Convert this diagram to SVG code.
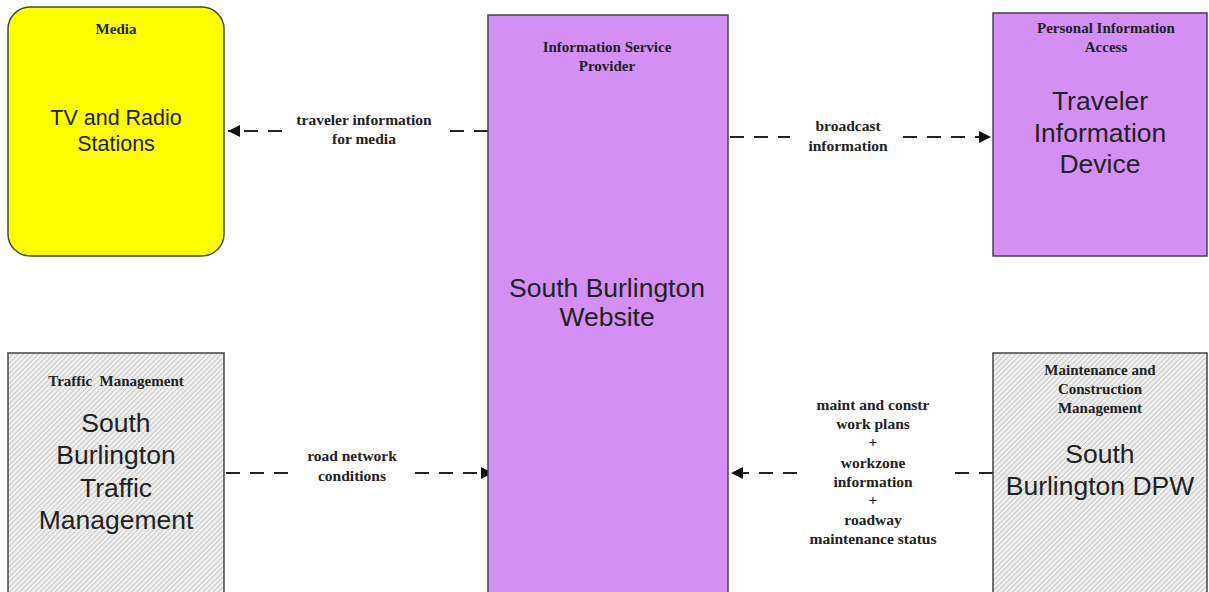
<svg xmlns="http://www.w3.org/2000/svg" width="1209" height="592" viewBox="0 0 1209 592">
<defs>
<pattern id="hatch" width="3.6" height="3.6" patternUnits="userSpaceOnUse" patternTransform="rotate(45)">
<rect width="3.6" height="3.6" fill="#efefef"/>
<line x1="0" y1="0" x2="0" y2="3.6" stroke="#a8a8a8" stroke-width="1"/>
</pattern>
<marker id="arr" viewBox="0 0 10 10" refX="10" refY="5" markerWidth="17" markerHeight="12" markerUnits="userSpaceOnUse" orient="auto">
<path d="M0,0 L10,5 L0,10 Z" fill="#111"/>
</marker>
</defs>
<style>
.box{stroke:#444;stroke-width:1.5}
.cat{font-family:"Liberation Serif",serif;font-weight:bold;font-size:15px;fill:#222;text-anchor:middle}
.name{font-family:"Liberation Sans",sans-serif;font-size:26.5px;fill:#222;text-anchor:middle}
.small{font-size:21.5px}
.lbl{font-family:"Liberation Serif",serif;font-weight:bold;font-size:15.5px;fill:#222;text-anchor:middle}
.con{stroke:#222;stroke-width:2;stroke-dasharray:14,10;fill:none}
</style>
<rect width="1209" height="592" fill="#fff"/>
<g id="connectors">
<path class="con" d="M488,131 L450,131"/>
<path class="con" d="M282,131 L228,131" marker-end="url(#arr)"/>
<path class="con" d="M730,137 L790,137"/>
<path class="con" d="M903,137 L991,137" marker-end="url(#arr)"/>
<path class="con" d="M226,473 L290,473"/>
<path class="con" d="M415,473 L493,473" marker-end="url(#arr)"/>
<path class="con" d="M993,473 L955,473"/>
<path class="con" d="M797,473 L731,473" marker-end="url(#arr)"/>
<text class="lbl" x="364" y="125">traveler information</text>
<text class="lbl" x="364" y="144">for media</text>
<text class="lbl" x="848" y="131">broadcast</text>
<text class="lbl" x="848" y="151">information</text>
<text class="lbl" x="352" y="461">road network</text>
<text class="lbl" x="352" y="481">conditions</text>
<text class="lbl" x="873" y="410">maint and constr</text>
<text class="lbl" x="873" y="429">work plans</text>
<text class="lbl" x="873" y="447">+</text>
<text class="lbl" x="873" y="468">workzone</text>
<text class="lbl" x="873" y="487">information</text>
<text class="lbl" x="873" y="505">+</text>
<text class="lbl" x="873" y="525">roadway</text>
<text class="lbl" x="873" y="544">maintenance status</text>
</g>
<g id="media">
<rect class="box" x="8" y="7" width="216" height="249" rx="22" fill="#ffff00"/>
<text class="cat" x="116" y="34">Media</text>
<text class="name small" x="116" y="125">TV and Radio</text>
<text class="name small" x="116" y="151">Stations</text>
</g>
<g id="isp">
<rect class="box" x="488" y="15" width="240" height="590" fill="#d48ff4"/>
<text class="cat" x="607" y="52">Information Service</text>
<text class="cat" x="607" y="71">Provider</text>
<text class="name" x="607" y="297">South Burlington</text>
<text class="name" x="607" y="326">Website</text>
</g>
<g id="tid">
<rect class="box" x="993" y="13" width="214" height="243" fill="#d48ff4"/>
<text class="cat" x="1106" y="33">Personal Information</text>
<text class="cat" x="1106" y="52">Access</text>
<text class="name" x="1100" y="110">Traveler</text>
<text class="name" x="1100" y="142">Information</text>
<text class="name" x="1100" y="173">Device</text>
</g>
<g id="traffic">
<rect class="box" x="8" y="353" width="216" height="250" fill="url(#hatch)"/>
<text class="cat" x="116" y="386" xml:space="preserve">Traffic  Management</text>
<text class="name" x="116" y="432">South</text>
<text class="name" x="116" y="464">Burlington</text>
<text class="name" x="116" y="497">Traffic</text>
<text class="name" x="116" y="529">Management</text>
</g>
<g id="dpw">
<rect class="box" x="993" y="353" width="214" height="250" fill="url(#hatch)"/>
<text class="cat" x="1100" y="375">Maintenance and</text>
<text class="cat" x="1100" y="394">Construction</text>
<text class="cat" x="1100" y="413">Management</text>
<text class="name" x="1100" y="463">South</text>
<text class="name" x="1100" y="495">Burlington DPW</text>
</g>
</svg>
